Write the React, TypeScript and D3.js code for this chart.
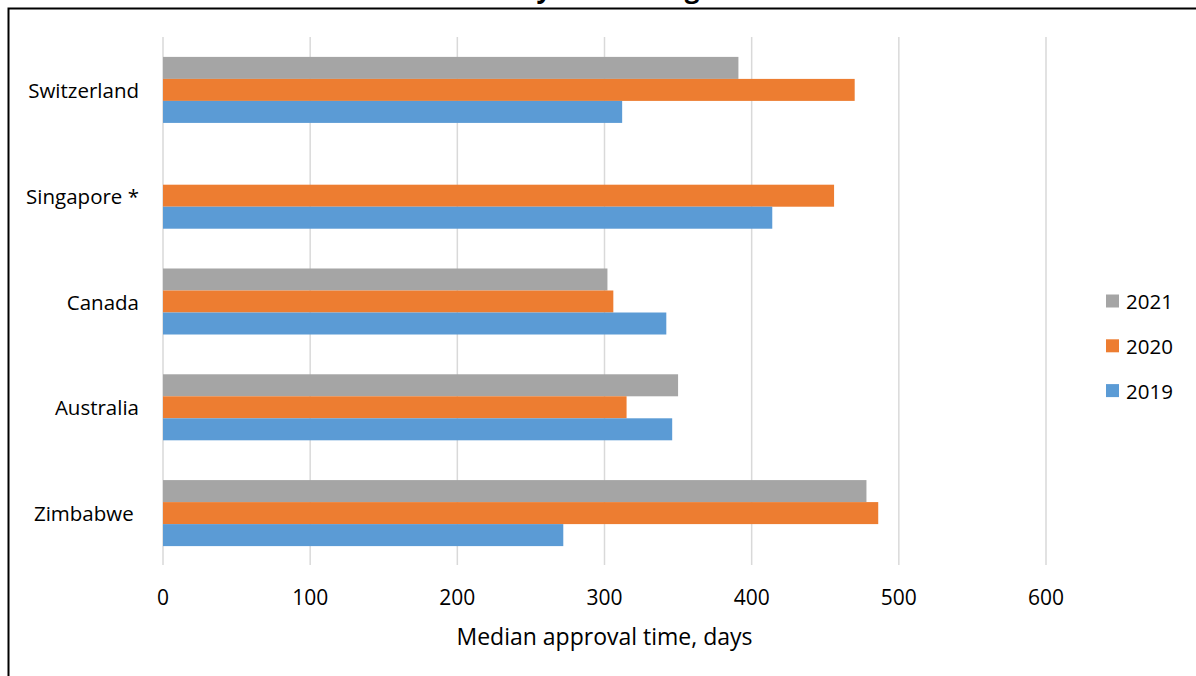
import React from "react";
import * as d3 from "d3";

const countries = ["Switzerland", "Singapore *", "Canada", "Australia", "Zimbabwe "];
const years = ["2021", "2020", "2019"];
const values2021: (number | null)[] = [391, null, 302, 350, 478];
const values2020: (number | null)[] = [470, 456, 306, 315, 486];
const values2019: (number | null)[] = [312, 414, 342, 346, 272];
const xTicks = [0, 100, 200, 300, 400, 500, 600];
const colors: Record<string, string> = { "2021": "#A5A5A5", "2020": "#ED7D31", "2019": "#5B9BD5" };
const legendOrder = ["2021", "2020", "2019"];
const titleText = "Median Times by Health Regulator";
const xAxisTitle = "Median approval time, days";

const seriesValues: Record<string, (number | null)[]> = {
  "2021": values2021,
  "2020": values2020,
  "2019": values2019,
};

export default function App() {
  const W = 1196, H = 676;
  const plotLeft = 163, plotRight = 1046, plotTop = 37, plotBottom = 566;
  const x = d3.scaleLinear().domain([0, 600]).range([plotLeft, plotRight]);
  const y = d3.scaleBand<string>().domain(countries).range([plotTop, plotBottom]).paddingInner(0.376).paddingOuter(0.188);
  const yInner = d3.scaleBand<string>().domain(years).range([0, y.bandwidth()]);
  const font = "'Open Sans', sans-serif";

  return (
    <div style={{ position: "fixed", left: 0, top: 0 }}>
      <svg width={W} height={H} style={{ display: "block", background: "#fff" }}>
        <rect x={0} y={0} width={W} height={H} fill="#fff" />
        {/* frame */}
        <path d={`M8.5,${H + 5} V8.5 H${W + 5}`} fill="none" stroke="#000" strokeWidth={2} />
        <text x={556} y={-2.5} textAnchor="middle" fontFamily={font} fontWeight="bold" fontSize={26} fill="#000">
          {titleText}
        </text>
        {/* gridlines */}
        {xTicks.map((t) => (
          <line key={t} x1={x(t)} x2={x(t)} y1={plotTop} y2={565} stroke="#D9D9D9" strokeWidth={1.5} />
        ))}
        {/* bars */}
        {countries.map((c, i) =>
          years.map((yr) => {
            const v = seriesValues[yr][i];
            if (v == null) return null;
            return (
              <rect
                key={c + yr}
                x={x(0)}
                y={(y(c) as number) + (yInner(yr) as number)}
                width={x(v) - x(0)}
                height={yInner.bandwidth()}
                fill={colors[yr]}
              />
            );
          })
        )}
        {/* category labels */}
        {countries.map((c) => (
          <text
            key={c}
            x={139}
            y={(y(c) as number) + y.bandwidth() / 2}
            textAnchor="end"
            dominantBaseline="central"
            fontFamily={font}
            fontSize={20.5}
            fill="#000"
            style={{ whiteSpace: "pre" }}
          >
            {c}
          </text>
        ))}
        {/* tick labels */}
        {xTicks.map((t) => (
          <text key={t} x={x(t)} y={597} textAnchor="middle" dominantBaseline="central" fontFamily={font} fontSize={21} fill="#000">
            {t}
          </text>
        ))}
        <text x={(plotLeft + plotRight) / 2} y={636} textAnchor="middle" dominantBaseline="central" fontFamily={font} fontSize={23} fill="#000">
          {xAxisTitle}
        </text>
        {/* legend */}
        {legendOrder.map((yr, i) => (
          <g key={yr} transform={`translate(1106, ${301 + i * 44.8})`}>
            <rect x={0} y={-6.5} width={13} height={13} fill={colors[yr]} />
            <text x={20} y={0} dominantBaseline="central" fontFamily={font} fontSize={20.5} fill="#000">
              {yr}
            </text>
          </g>
        ))}
      </svg>
    </div>
  );
}
